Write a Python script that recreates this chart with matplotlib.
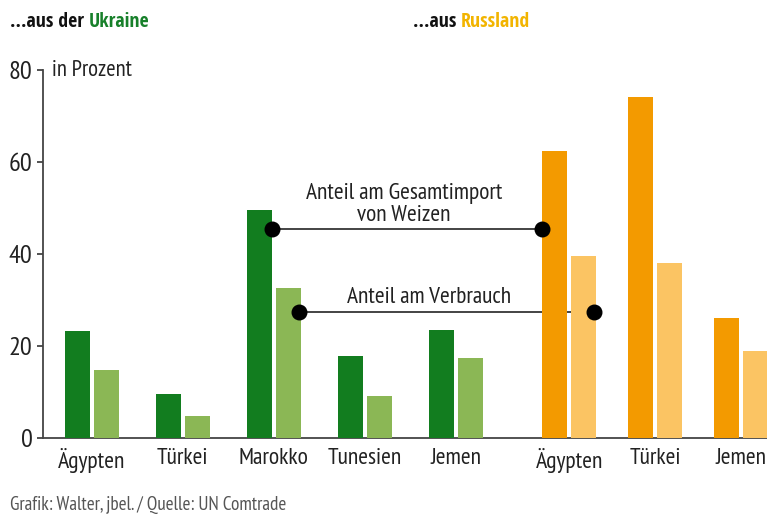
import matplotlib
matplotlib.use("Agg")
import matplotlib.pyplot as plt
from matplotlib.offsetbox import TextArea, HPacker, AnchoredOffsetbox
import numpy as np

FONT = ['PT Sans Narrow', 'DejaVu Sans']
BOLD_FONT = ['Open Sans Condensed', 'PT Sans Narrow', 'DejaVu Sans']
plt.rcParams['font.family'] = FONT

# ---- data ----
ukr_countries = ["Ägypten", "Türkei", "Marokko", "Tunesien", "Jemen"]
ukr_import = [23.3, 9.6, 49.6, 17.8, 23.4]     # Anteil am Gesamtimport
ukr_consumption = [14.8, 4.8, 32.7, 9.1, 17.4]  # Anteil am Verbrauch

rus_countries = ["Ägypten", "Türkei", "Jemen"]
rus_import = [62.3, 74.1, 26.0]
rus_consumption = [39.6, 38.0, 19.0]

yticks = [0, 20, 40, 60, 80]
ann_import_y = 45.5
ann_cons_y = 27.3

# ---- style ----
W, H = 767, 516
DARK_G, LIGHT_G = "#127d1f", "#8bb755"
DARK_O, LIGHT_O = "#f39a00", "#fbc463"
TXT = "#222222"

fig = plt.figure(figsize=(W / 100, H / 100), dpi=100)
ax_left, ax_right, ax_top, ax_bottom = 43, 767, 70, 438
ax = fig.add_axes([ax_left / W, 1 - ax_bottom / H, (ax_right - ax_left) / W, (ax_bottom - ax_top) / H])
ax.set_xlim(ax_left, ax_right)
ax.set_ylim(0, 80)

bw = 25
off = 14.6
ukr_x = 91.7 + 91.1 * np.arange(len(ukr_countries))
rus_x = 569.3 + 85.7 * np.arange(len(rus_countries))

ax.bar(ukr_x - off, ukr_import, width=bw, color=DARK_G, zorder=3)
ax.bar(ukr_x + off, ukr_consumption, width=bw, color=LIGHT_G, zorder=3)
ax.bar(rus_x - off, rus_import, width=bw, color=DARK_O, zorder=3)
ax.bar(rus_x + off, rus_consumption, width=bw, color=LIGHT_O, zorder=3)

# annotation lines
x1 = ukr_x[2] - off + bw / 2
x2 = rus_x[0] - off - bw / 2
ax.plot([x1, x2], [ann_import_y] * 2, color="#111111", lw=1.1, zorder=2)
ax.scatter([x1, x2], [ann_import_y] * 2, s=110, color="black", zorder=5)
x3 = ukr_x[2] + off + bw / 2 - 2
x4 = rus_x[0] + off + bw / 2 - 2
ax.plot([x3, x4], [ann_cons_y] * 2, color="#111111", lw=1.1, zorder=2)
ax.scatter([x3, x4], [ann_cons_y] * 2, s=110, color="black", zorder=5)

ax.text(404, 53.2, "Anteil am Gesamtimport", ha="center", va="center", fontsize=16.8, color=TXT)
ax.text(404, 48.4, "von Weizen", ha="center", va="center", fontsize=16.8, color=TXT)
ax.text(429, 30.5, "Anteil am Verbrauch", ha="center", va="center", fontsize=16.8, color=TXT)

# axes styling
for s in ["top", "right"]:
    ax.spines[s].set_visible(False)
for s in ["left", "bottom"]:
    ax.spines[s].set_color("#444444")
    ax.spines[s].set_linewidth(1.3)
ax.set_yticks(yticks)
ax.tick_params(axis="y", direction="out", length=4.5, width=1.3, color="#444444",
               labelsize=19, labelcolor=TXT, pad=3)
ax.set_xticks(list(ukr_x) + list(rus_x))
ax.set_xticklabels(ukr_countries + rus_countries)
ax.tick_params(axis="x", length=0, labelsize=17, labelcolor=TXT, pad=7)

fig.text(52 / W, 1 - 71 / H, "in Prozent", ha="left", va="center", fontsize=16.3, color=TXT)

def colored_header(x, y, parts):
    boxes = [TextArea(txt, textprops=dict(color=col, fontsize=14.3, fontweight="bold",
                                          family=BOLD_FONT))
             for txt, col in parts]
    pk = HPacker(children=boxes, align="baseline", pad=0, sep=0)
    ab = AnchoredOffsetbox(loc="center left", child=pk, pad=0, frameon=False,
                           bbox_to_anchor=(x / W, 1 - y / H), bbox_transform=fig.transFigure,
                           borderpad=0)
    fig.add_artist(ab)

colored_header(10, 22, [("...aus der ", "#111111"), ("Ukraine", "#17802a")])
colored_header(413, 22, [("...aus ", "#111111"), ("Russland", "#f2b400")])

fig.text(10 / W, 1 - 505 / H, "Grafik: Walter, jbel. / Quelle: UN Comtrade", ha="left",
         va="center", fontsize=13.8, color="#555555")

fig.savefig("out.png", dpi=100)
